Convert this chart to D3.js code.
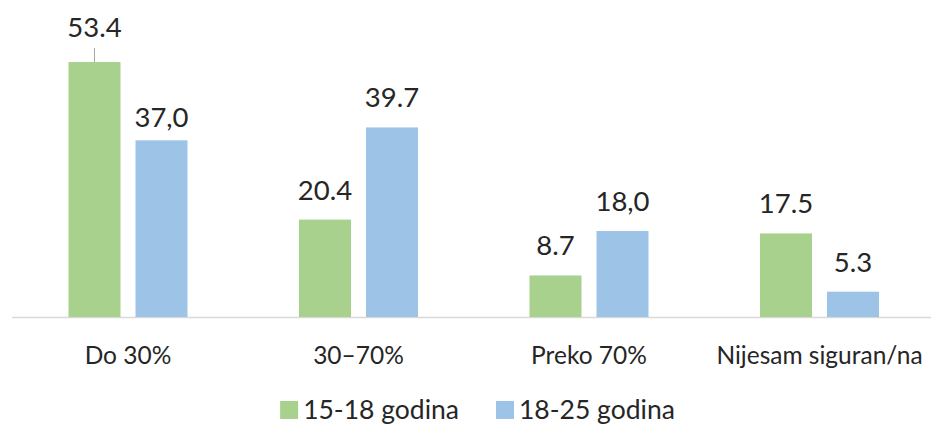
<!DOCTYPE html>
<html>
<head>
<meta charset="utf-8">
<script src="https://cdn.jsdelivr.net/npm/d3@7"></script>
<style>
  html, body { margin: 0; padding: 0; background: #fff; }
  svg { display: block; font-family: Lato, "Open Sans", sans-serif; }
</style>
</head>
<body>
<svg id="chart" width="931" height="425"></svg>
<script>
const categories = ["Do 30%", "30–70%", "Preko 70%", "Nijesam siguran/na"];
const seriesNames = ["15-18 godina", "18-25 godina"];
const values1518 = [53.4, 20.4, 8.7, 17.5];
const values1825 = [37.0, 39.7, 18.0, 5.3];
const labels1518 = ["53.4", "20.4", "8.7", "17.5"];
const labels1825 = ["37,0", "39.7", "18,0", "5.3"];
const colors = ["#A9D18E", "#9DC3E6"];

const svg = d3.select("#chart");
const baseline = 317;

const x0 = d3.scaleBand().domain(categories).range([12.75, 934.75]).padding(0);
const x1 = d3.scaleBand().domain(seriesNames).range([0, x0.bandwidth()])
  .paddingInner(0.224).paddingOuter(0.832);
const y = d3.scaleLinear().domain([0, 60]).range([baseline, baseline - 60 * 4.775]);

const seriesValues = [values1518, values1825];
const seriesLabels = [labels1518, labels1825];

const data = [];
categories.forEach((c, i) => {
  seriesNames.forEach((s, j) => {
    data.push({ cat: c, ser: s, j, v: seriesValues[j][i], lab: seriesLabels[j][i] });
  });
});

// axis line
svg.append("line")
  .attr("x1", 12).attr("x2", 931)
  .attr("y1", baseline + 0.5).attr("y2", baseline + 0.5)
  .attr("stroke", "#d9d9d9").attr("stroke-width", 1.5);

// bars
svg.append("g").selectAll("rect").data(data).join("rect")
  .attr("x", d => x0(d.cat) + x1(d.ser))
  .attr("y", d => y(d.v))
  .attr("width", x1.bandwidth())
  .attr("height", d => y(0) - y(d.v))
  .attr("fill", d => colors[d.j]);

// label offsets (manually moved labels in original)
function labelGap(d) {
  if (d.lab === "53.4") return 25;
  if (d.lab === "37,0") return 13;
  return 20;
}

svg.append("g").selectAll("text").data(data).join("text")
  .attr("x", d => x0(d.cat) + x1(d.ser) + x1.bandwidth() / 2)
  .attr("y", d => y(d.v) - labelGap(d))
  .attr("text-anchor", "middle")
  .attr("font-size", 27.5)
  .attr("fill", "#262626")
  .text(d => d.lab);

// leader line for moved label
const d0 = data[0];
svg.append("line")
  .attr("x1", x0(d0.cat) + x1(d0.ser) + x1.bandwidth() / 2)
  .attr("x2", x0(d0.cat) + x1(d0.ser) + x1.bandwidth() / 2)
  .attr("y1", y(d0.v) - 14).attr("y2", y(d0.v))
  .attr("stroke", "#a6a6a6").attr("stroke-width", 1);

// category labels
svg.append("g").selectAll("text").data(categories).join("text")
  .attr("x", d => x0(d) + x0.bandwidth() / 2)
  .attr("y", 364)
  .attr("text-anchor", "middle")
  .attr("font-size", 24.5)
  .attr("fill", "#262626")
  .text(d => d);

// legend
const legend = svg.append("g");
const items = legend.selectAll("g").data(seriesNames).join("g");
items.append("rect").attr("width", 18).attr("height", 18).attr("y", 401)
  .attr("fill", (d, i) => colors[i]);
items.append("text").attr("x", 23).attr("y", 419)
  .attr("font-size", 26.5).attr("fill", "#262626").text(d => d);
let cx = 0;
const widths = [];
items.each(function () {
  const w = 23 + d3.select(this).select("text").node().getComputedTextLength();
  widths.push(w);
});
const gap = 37;
const total = widths.reduce((a, b) => a + b, 0) + gap * (widths.length - 1);
cx = 477.5 - total / 2;
items.each(function (d, i) {
  d3.select(this).attr("transform", `translate(${cx},0)`);
  cx += widths[i] + gap;
});
</script>
</body>
</html>
